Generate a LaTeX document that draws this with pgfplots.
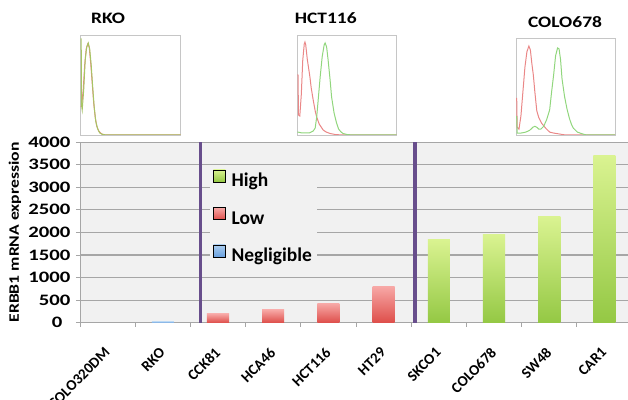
\documentclass[border=0pt]{standalone}
\usepackage{fontspec}
\setmainfont{Carlito}
\newfontfamily\widefont[FakeStretch=1.3]{Carlito}
\newfontfamily\titlefont[FakeStretch=1.22]{Carlito}
\usepackage{pgfplots}
\pgfplotsset{compat=1.18}
\definecolor{plotbg}{RGB}{241,241,241}
\definecolor{gridgray}{RGB}{166,166,166}
\definecolor{sep}{RGB}{104,78,140}
\definecolor{hightop}{RGB}{218,243,145}
\definecolor{highbot}{RGB}{148,200,68}
\definecolor{lowtop}{RGB}{247,168,166}
\definecolor{lowbot}{RGB}{222,78,74}
\definecolor{negtop}{RGB}{172,206,240}
\definecolor{negbot}{RGB}{105,160,222}
\definecolor{hred}{RGB}{234,135,135}
\definecolor{hgreen}{RGB}{145,214,125}
\pgfplotsset{
  highbar/.style={forget plot, draw=none, top color=hightop, bottom color=highbot},
  lowbar/.style={forget plot, draw=none, top color=lowtop, bottom color=lowbot},
  negbar/.style={forget plot, draw=none, top color=negtop, bottom color=negbot},
}
\begin{document}
\begin{tikzpicture}
\useasboundingbox (0,0) rectangle (628bp,400bp);
\begin{axis}[
  at={(80bp,77.3bp)}, anchor=south west, scale only axis,
  width=552bp, height=180.6bp,
  xmin=-0.5, xmax=9.5, ymin=0, ymax=4000,
  ybar, bar width=0.4, bar shift=0pt,
  axis background/.style={fill=plotbg},
  ymajorgrids, grid style={draw=gridgray, line width=1.1bp},
  axis x line*=bottom, axis y line*=left,
  axis line style={draw=gridgray, line width=0.8bp, -},
  tick align=outside, major tick length=4bp, minor tick length=4bp,
  ytick={500,1000,...,4000},
  extra y ticks={0},
  extra y tick style={yticklabel style={xshift=-8bp}},
  ytick style={draw=gridgray, line width=0.8bp},
  xtick={0,...,9},
  xticklabels={COLO320DM,RKO,CCK81,HCA46,HCT116,HT29,SKCO1,COLO678,SW48,CAR1},
  minor xtick={-0.5,0.5,...,9.5},
  major x tick style={draw=none},
  minor x tick style={draw=gridgray, line width=0.8bp},
  /pgf/number format/assume math mode=true,
  /pgf/number format/1000 sep={},
  yticklabel style={font=\widefont\bfseries\fontsize{16}{16}\selectfont, xshift=-2bp},
  xticklabel style={font=\bfseries\fontsize{15}{15}\selectfont, xshift=-4bp, yshift=-19bp, rotate=45, anchor=north east, inner sep=0.5bp},
  ylabel={ERBB1 mRNA expression},
  ylabel style={font=\titlefont\bfseries\fontsize{14.5}{14.5}\selectfont, at={(axis description cs:-0.118,0.5)}, anchor=center},
  legend style={at={(axis description cs:0.2355,0.865)}, anchor=north west, fill=plotbg, draw=none,
    font=\bfseries\fontsize{19.5}{19.5}\selectfont, row sep=17bp, inner sep=3bp},
  legend cell align=left,
]
\addlegendimage{legend image code/.code={\fill[top color=hightop, bottom color=highbot] (0bp,-1bp) rectangle (12bp,11bp); \path (16bp,0bp);}}
\addlegendentry{High}
\addlegendimage{legend image code/.code={\fill[top color=lowtop, bottom color=lowbot] (0bp,-1bp) rectangle (12bp,11bp); \path (16bp,0bp);}}
\addlegendentry{Low}
\addlegendimage{legend image code/.code={\fill[top color=negtop, bottom color=negbot] (0bp,-1bp) rectangle (12bp,11bp); \path (16bp,0bp);}}
\addlegendentry{Negligible}
% Negligible
\addplot[negbar] coordinates {(0,8)};
\addplot[negbar] coordinates {(1,30)};
% Low
\addplot[lowbar] coordinates {(2,197)};
\addplot[lowbar] coordinates {(3,286)};
\addplot[lowbar] coordinates {(4,425)};
\addplot[lowbar] coordinates {(5,802)};
% High
\addplot[highbar] coordinates {(6,1850)};
\addplot[highbar] coordinates {(7,1960)};
\addplot[highbar] coordinates {(8,2350)};
\addplot[highbar] coordinates {(9,3710)};
\draw[sep, line width=3.5bp] (axis cs:1.687,-40) -- (axis cs:1.687,4000);
\draw[sep, line width=3.5bp] (axis cs:5.57,-40) -- (axis cs:5.57,4000);
\end{axis}
% RKO inset
\begin{axis}[at={(80.7bp,265bp)}, anchor=south west, scale only axis,
  width=100bp, height=100bp, xmin=0, xmax=100, ymin=0, ymax=100,
  ticks=none, axis line style={draw=gray!45, line width=0.6bp}]
\addplot[no marks, draw=hred, line width=1bp] coordinates {(0,28)(1,30)(2.5,45)(4,70)(5.5,86)(7,91)(8.5,88)(10,72)(11.5,52)(13,32)(14.5,18)(16,9)(18,4)(21,1)(25,0)(100,0)};
\addplot[no marks, draw=hgreen!80!orange, line width=1bp] coordinates {(0,96)(0.5,96)(0.8,30)(1.5,25)(3,45)(4.5,75)(6,88)(7.6,92)(9,86)(10.5,70)(12,48)(13.5,28)(15,14)(17,6)(19,2)(22,0.5)(26,0)(100,0)};
\end{axis}
% HCT116 inset
\begin{axis}[at={(297.3bp,265bp)}, anchor=south west, scale only axis,
  width=99.4bp, height=100bp, xmin=0, xmax=100, ymin=0, ymax=100,
  ticks=none, axis line style={draw=gray!45, line width=0.6bp}]
\addplot[no marks, draw=hred, line width=1bp] coordinates {(0,60)(0.7,60)(1.2,20)(2.5,19)(4,40)(5.5,75)(7,91)(7.7,93)(8.5,90)(10,76)(12.7,58)(14,47)(16,35)(18,24)(19.5,18)(22,11)(26,5)(29,3)(33,1.5)(38,0.5)(45,0)(100,0)};
\addplot[no marks, draw=hgreen, line width=1bp] coordinates {(0,3)(5,2)(12,2)(16,4)(18,7)(19.5,18)(21,35)(23,58)(25,78)(27,90)(28,92)(29.5,88)(31,75)(33,55)(34.5,38)(37,22)(39.5,12)(41.5,6)(44,3)(46,1.5)(50,0.5)(55,0)(100,0)};
\end{axis}
% COLO678 inset
\begin{axis}[at={(516bp,265bp)}, anchor=south west, scale only axis,
  width=99bp, height=96.7bp, xmin=0, xmax=100, ymin=0, ymax=100,
  ticks=none, axis line style={draw=gray!45, line width=0.6bp}]
\addplot[no marks, draw=hred, line width=1bp] coordinates {(0,38)(0.7,38)(1.2,8)(3,6)(5,20)(7,45)(9,70)(11,86)(13,92)(14.5,88)(16,74)(17.5,62)(19,45)(21,25)(23,18)(26,12)(30,7)(34,3)(38,2)(44,1)(50,0)(100,0)};
\addplot[no marks, draw=hgreen, line width=1bp] coordinates {(0,19)(0.7,19)(1.2,2)(5,2)(10,3)(14,5)(17,8)(19,9)(21,8)(23,6)(25,6)(28,9)(31,16)(34,26)(36,45)(38,62)(40,82)(42,90)(43.5,89)(45,78)(46.5,58)(49,40)(51.5,27)(54,17)(56,11)(58,7)(62,3)(66,1.5)(71,0)(100,0)};
\end{axis}
\node[font=\titlefont\bfseries\fontsize{16}{16}\selectfont] at (108bp,382bp) {RKO};
\node[font=\titlefont\bfseries\fontsize{16}{16}\selectfont] at (325.7bp,382bp) {HCT116};
\node[font=\titlefont\bfseries\fontsize{16}{16}\selectfont] at (565bp,378.3bp) {COLO678};
\end{tikzpicture}
\end{document}
